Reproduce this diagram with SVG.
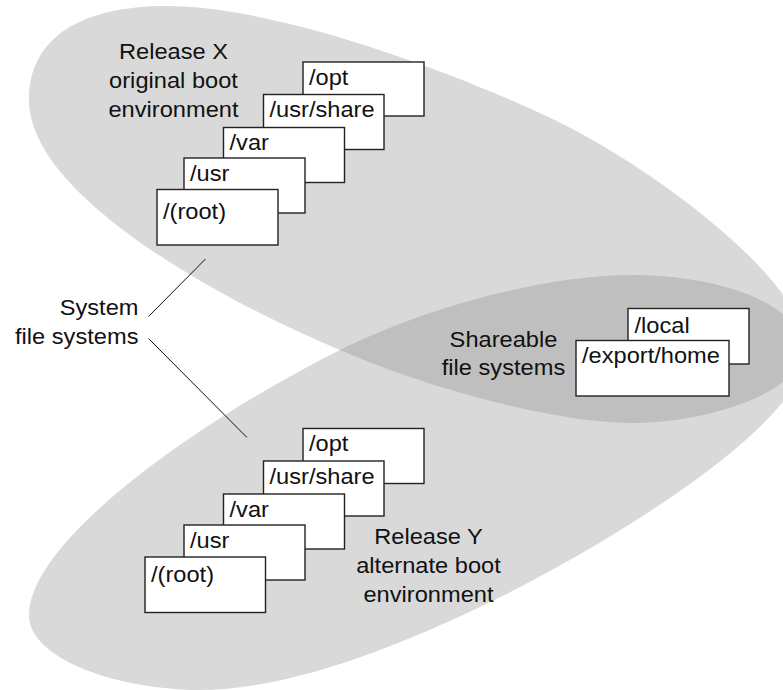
<svg xmlns="http://www.w3.org/2000/svg" width="783" height="690" viewBox="0 0 783 690">
<style>
.bg{fill:#d9d9d9}
.ov{fill:#bfbfbf}
.box{fill:#fff;stroke:#222;stroke-width:1.4}
.t{font-family:"Liberation Sans",Arial,Helvetica,sans-serif;font-size:22px;fill:#111}
.c{text-anchor:middle}
.e{text-anchor:end}
.ln{stroke:#111;stroke-width:1;fill:none}
</style>
<defs>
<path id="shapeX" d="M29,100 C29,35 85,6 167,6 C290,6 500,90 580,133 C670,182 800,280 805,345 C805,395 700,423 633,423 C550,423 420,385 340,350 C220,300 29,195 29,100 Z"/>
<path id="shapeY" d="M29,615 C29,540 200,420 340,350 C420,310 540,275 633,275 C710,275 805,300 805,355 C805,420 620,540 480,607 C400,645 290,690 200,690 C120,690 29,660 29,615 Z"/>
<clipPath id="clipX"><use href="#shapeX"/></clipPath>
</defs>
<g id="regions">
<use href="#shapeX" class="bg"/>
<use href="#shapeY" class="bg"/>
<use href="#shapeY" class="ov" clip-path="url(#clipX)"/>
</g>
<g id="labels">
<g id="label-release-x" class="t c">
<text transform="translate(173.5,58.5) scale(1.075 1)">Release X</text>
<text transform="translate(173.5,87.5) scale(1.075 1)">original boot</text>
<text transform="translate(173.5,116.5) scale(1.075 1)">environment</text>
</g>
<g id="label-system" class="t e">
<text transform="translate(138.5,315) scale(1.075 1)">System</text>
<text transform="translate(138.5,343.5) scale(1.075 1)">file systems</text>
</g>
<g id="label-shareable" class="t c">
<text transform="translate(503.5,346.5) scale(1.075 1)">Shareable</text>
<text transform="translate(503.5,375) scale(1.075 1)">file systems</text>
</g>
<g id="label-release-y" class="t c">
<text transform="translate(428.5,543.5) scale(1.075 1)">Release Y</text>
<text transform="translate(428.5,572.5) scale(1.075 1)">alternate boot</text>
<text transform="translate(428.5,601.5) scale(1.075 1)">environment</text>
</g>
</g>
<g id="connectors">
<line class="ln" x1="205.5" y1="259" x2="148.5" y2="316.5"/>
<line class="ln" x1="148.5" y1="338.5" x2="247" y2="437.5"/>
</g>
<g id="x-opt"><rect class="box" x="303" y="62" width="121" height="54"/><text class="t" transform="translate(309,84.5) scale(1.075 1)">/opt</text></g>
<g id="x-usr-share"><rect class="box" x="263.5" y="94.5" width="120.5" height="55"/><text class="t" transform="translate(269.5,117) scale(1.075 1)">/usr/share</text></g>
<g id="x-var"><rect class="box" x="223.5" y="127.5" width="121" height="55"/><text class="t" transform="translate(229.5,150) scale(1.075 1)">/var</text></g>
<g id="x-usr"><rect class="box" x="184" y="158" width="121" height="55"/><text class="t" transform="translate(190,180.5) scale(1.075 1)">/usr</text></g>
<g id="x-root"><rect class="box" x="157" y="189.5" width="121" height="55.5"/><text class="t" transform="translate(163,218.5) scale(1.075 1)">/(root)</text></g>
<g id="y-opt"><rect class="box" x="303" y="428.5" width="121" height="55"/><text class="t" transform="translate(309,451) scale(1.075 1)">/opt</text></g>
<g id="y-usr-share"><rect class="box" x="263.5" y="461" width="120.5" height="55"/><text class="t" transform="translate(269.5,483.5) scale(1.075 1)">/usr/share</text></g>
<g id="y-var"><rect class="box" x="223.5" y="494" width="121" height="55"/><text class="t" transform="translate(229.5,516.5) scale(1.075 1)">/var</text></g>
<g id="y-usr"><rect class="box" x="184" y="525" width="121" height="55"/><text class="t" transform="translate(190,548) scale(1.075 1)">/usr</text></g>
<g id="y-root"><rect class="box" x="145" y="557" width="120.5" height="55.5"/><text class="t" transform="translate(151,581.5) scale(1.075 1)">/(root)</text></g>
<g id="s-local"><rect class="box" x="628" y="308.5" width="121" height="55.5"/><text class="t" transform="translate(634.5,332.5) scale(1.075 1)">/local</text></g>
<g id="s-export-home"><rect class="box" x="576" y="340.5" width="153" height="55.5"/><text class="t" transform="translate(582,362.5) scale(1.075 1)">/export/home</text></g>
</svg>
